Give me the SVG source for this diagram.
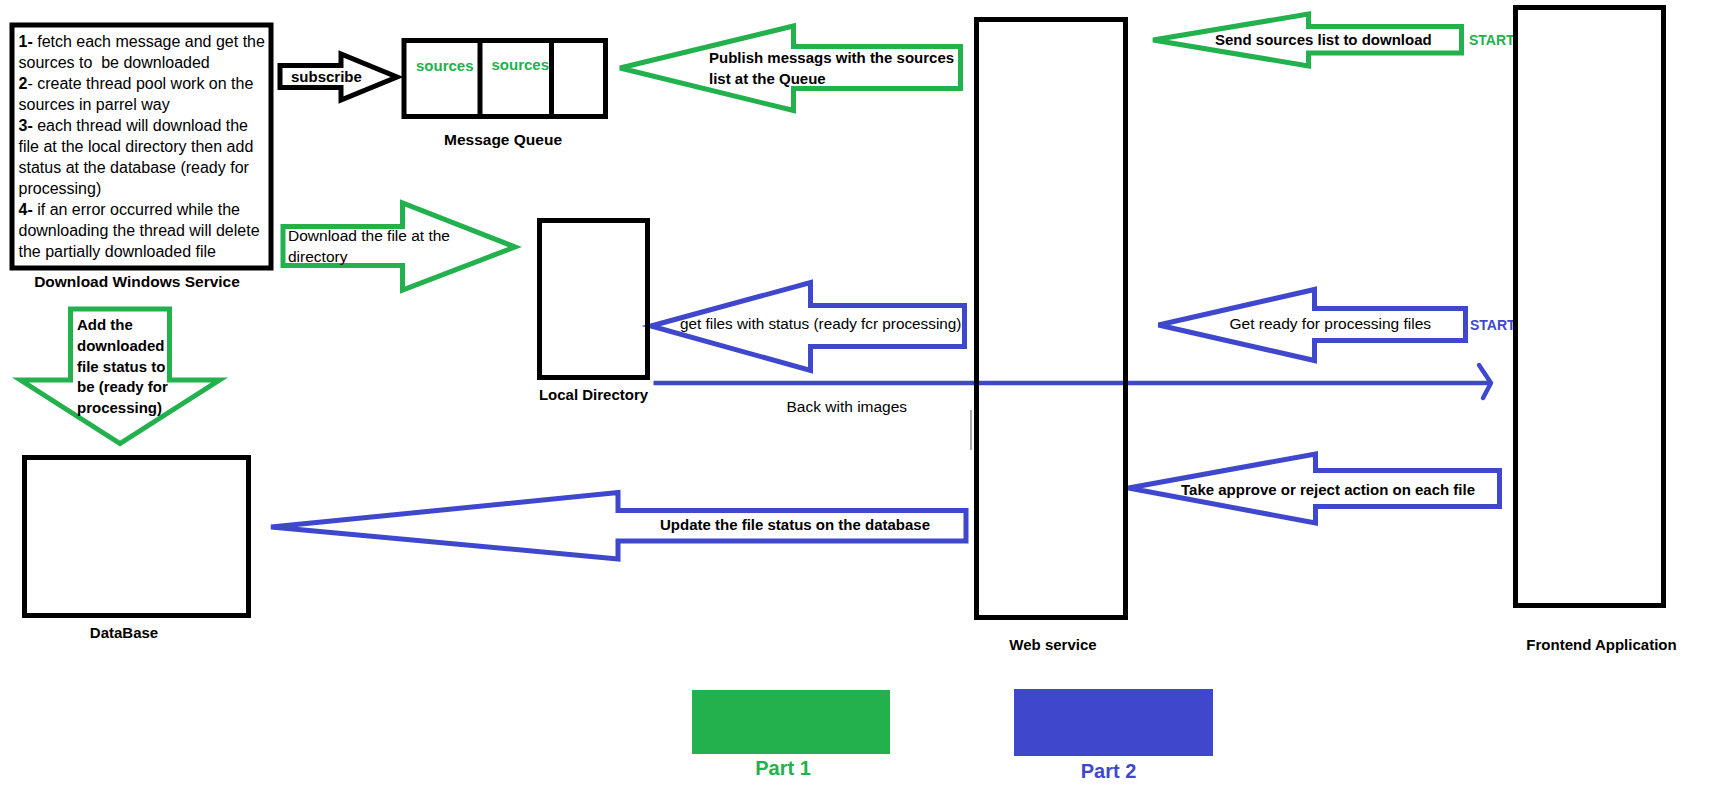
<svg xmlns="http://www.w3.org/2000/svg" width="1710" height="785" viewBox="0 0 1710 785">
<style>
.box{fill:none;stroke:#000;stroke-width:5}
.ga{fill:none;stroke:#22b14c;stroke-width:5;stroke-linejoin:miter}
.ba{fill:none;stroke:#3f48cc;stroke-width:5;stroke-linejoin:miter}
.ka{fill:none;stroke:#000;stroke-width:5;stroke-linejoin:miter}
text{font-family:"Liberation Sans",Arial,sans-serif;fill:#000}
.r{font-size:15.5px}
.rb{font-size:16px}
.b{font-size:15px;font-weight:bold}
.gt{fill:#22b14c}
.bt{fill:#3f48cc}
.c{text-anchor:middle}
</style>
<rect x="0" y="0" width="1710" height="785" fill="#fff"/>

<g id="connectors">
  <g id="subscribe-arrow">
    <polygon class="ka" points="280,65.5 341,65.5 341,54 397,77 341,100 341,87.5 280,87.5"/>
    <text class="b" x="291" y="82">subscribe</text>
  </g>
  <g id="publish-arrow">
    <polygon class="ga" points="620,68 793.5,26 793.5,46.5 960.5,46.5 960.5,88.5 793.5,88.5 793.5,110.5"/>
    <text class="b" x="709" y="62.5">Publish messags with the sources</text>
    <text class="b" x="709" y="84">list at the Queue</text>
  </g>
  <g id="send-sources-arrow">
    <polygon class="ga" points="1153,40 1308.5,14 1308.5,26.5 1461.5,26.5 1461.5,53 1308.5,53 1308.5,66"/>
    <text class="b" x="1215" y="44.5">Send sources list to download</text>
    <text class="b gt" x="1469" y="44.5" style="font-size:14px">START</text>
  </g>
  <g id="download-arrow">
    <polygon class="ga" points="283,226.5 402.5,226.5 402.5,203 515,247 402.5,290 402.5,265.5 283,265.5"/>
    <text class="r" x="288" y="240.5">Download the file at the</text>
    <text class="r" x="288" y="261.5">directory</text>
  </g>
  <g id="add-status-arrow">
    <polygon class="ga" points="70.5,309 169.5,309 169.5,380 219.5,380 120,443.5 20.5,380 70.5,380"/>
    <text class="b" x="77" y="329.5">Add the</text>
    <text class="b" x="77" y="350.5">downloaded</text>
    <text class="b" x="77" y="371.5">file status to</text>
    <text class="b" x="77" y="392">be (ready for</text>
    <text class="b" x="77" y="413">processing)</text>
  </g>
  <g id="get-files-arrow">
    <polygon class="ba" points="651,326 810.5,282.5 810.5,305.5 964.5,305.5 964.5,346.5 810.5,346.5 810.5,370.5"/>
    <text class="r" x="680" y="329" style="font-size:15.3px">get files with status (ready fcr processing)</text>
  </g>
  <g id="get-ready-arrow">
    <polygon class="ba" points="1158.5,325 1314.5,289.5 1314.5,308.5 1465.5,308.5 1465.5,340.5 1314.5,340.5 1314.5,360.5"/>
    <text class="r" x="1229.5" y="329">Get ready for processing files</text>
    <text class="b bt" x="1470" y="330" style="font-size:14px">START</text>
  </g>
  <g id="back-with-images">
    <line x1="653.5" y1="383" x2="1489" y2="383" stroke="#3f48cc" stroke-width="4.5"/>
    <polyline points="1479,365 1491,383 1483,398" fill="none" stroke="#3f48cc" stroke-width="4.5" stroke-linejoin="round" stroke-linecap="round"/>
    <text class="r" x="786.5" y="412">Back with images</text>
  </g>
  <g id="take-action-arrow">
    <polygon class="ba" points="1128.5,488 1315.5,454 1315.5,470.5 1499.5,470.5 1499.5,506.5 1315.5,506.5 1315.5,523"/>
    <text class="b" x="1181" y="495">Take approve or reject action on each file</text>
  </g>
  <g id="update-arrow">
    <polygon class="ba" points="271,527 618,492.5 618,510.5 966,510.5 966,541 618,541 618,559"/>
    <text class="b" x="660" y="529.5">Update the file status on the database</text>
  </g>
  <line x1="971" y1="410" x2="971" y2="450" stroke="#8a8a8a" stroke-width="1.5"/>
</g>

<g id="download-windows-service">
  <rect class="box" x="12" y="25" width="259" height="243"/>
  <text class="rb" x="18.5" y="47.3"><tspan font-weight="bold">1-</tspan> fetch each message and get the</text>
  <text class="rb" x="18.5" y="68.3" xml:space="preserve">sources to  be downloaded</text>
  <text class="rb" x="18.5" y="89.3"><tspan font-weight="bold">2</tspan>- create thread pool work on the</text>
  <text class="rb" x="18.5" y="110.3">sources in parrel way</text>
  <text class="rb" x="18.5" y="131.2"><tspan font-weight="bold">3-</tspan> each thread will download the</text>
  <text class="rb" x="18.5" y="152.2">file at the local directory then add</text>
  <text class="rb" x="18.5" y="173.2">status at the database (ready for</text>
  <text class="rb" x="18.5" y="194.1">processing)</text>
  <text class="rb" x="18.5" y="215.1"><tspan font-weight="bold">4-</tspan> if an error occurred while the</text>
  <text class="rb" x="18.5" y="236.1">downloading the thread will delete</text>
  <text class="rb" x="18.5" y="257">the partially downloaded file</text>
  <text class="b c" x="137" y="287" style="font-size:15.5px">Download Windows Service</text>
</g>

<g id="message-queue">
  <rect class="box" x="404" y="40.5" width="201.5" height="76"/>
  <line x1="480" y1="40.5" x2="480" y2="116.5" stroke="#000" stroke-width="5"/>
  <line x1="551.5" y1="40.5" x2="551.5" y2="116.5" stroke="#000" stroke-width="5"/>
  <text class="b gt" x="416" y="70.5">sources</text>
  <text class="b gt" x="491.5" y="69.5">sources</text>
  <text class="b c" x="503" y="145" style="font-size:15.5px">Message Queue</text>
</g>

<g id="local-directory">
  <rect class="box" x="539.5" y="220.5" width="108" height="157"/>
  <text class="b c" x="593.5" y="400">Local Directory</text>
</g>

<g id="database">
  <rect class="box" x="24.5" y="457.5" width="224" height="158"/>
  <text class="b c" x="124" y="638">DataBase</text>
</g>

<g id="web-service">
  <rect class="box" x="976.5" y="19.5" width="149" height="598"/>
  <text class="b c" x="1053" y="650">Web service</text>
</g>

<g id="frontend-application">
  <rect class="box" x="1515.5" y="7.5" width="148" height="598"/>
  <text class="b c" x="1601.5" y="650">Frontend Application</text>
</g>

<g id="legend">
  <rect x="692" y="690" width="198" height="64" fill="#22b14c"/>
  <rect x="1014" y="689" width="199" height="67" fill="#3f48cc"/>
  <text class="b c gt" x="783" y="775" style="font-size:20px">Part 1</text>
  <text class="b c bt" x="1108.5" y="778" style="font-size:20px">Part 2</text>
</g>
</svg>
